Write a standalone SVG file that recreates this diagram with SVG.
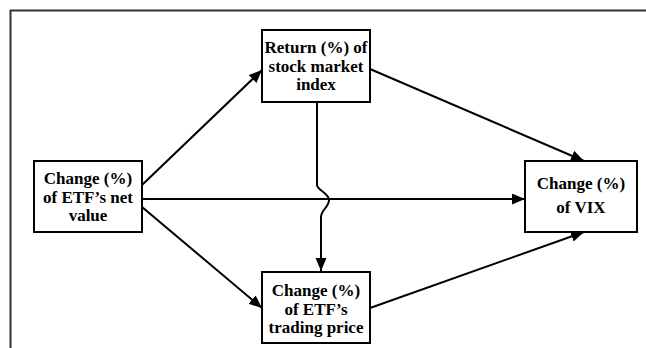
<svg xmlns="http://www.w3.org/2000/svg" width="646" height="348" viewBox="0 0 646 348">
<defs>
<style>
.box{fill:#fff;stroke:#000;stroke-width:2}
.lbl{font-weight:bold;font-size:17px;fill:#000;text-anchor:middle}
.conn{fill:none;stroke:#000;stroke-width:2}
</style>
<marker id="ah" markerUnits="userSpaceOnUse" markerWidth="14" markerHeight="12" refX="13" refY="5.5" orient="auto">
<path d="M0,0 L13,5.5 L0,11 z" fill="#000"/>
</marker>
</defs>
<rect x="0" y="0" width="646" height="348" fill="#fff"/>
<rect x="10.5" y="10.5" width="660" height="360" fill="none" stroke="#333" stroke-width="2"/>
<g id="connectors">
<line class="conn" x1="142" y1="185" x2="262" y2="70" marker-end="url(#ah)"/>
<line class="conn" x1="142" y1="199" x2="525" y2="199" marker-end="url(#ah)"/>
<line class="conn" x1="142" y1="207" x2="262" y2="308" marker-end="url(#ah)"/>
<line class="conn" x1="370" y1="69" x2="584" y2="161" marker-end="url(#ah)"/>
<line class="conn" x1="370" y1="308" x2="584" y2="232" marker-end="url(#ah)"/>
<path class="conn" d="M317,102 L317,185 C317,190 329,193 329,200 C329,207 321,210 321,217 L321,271" marker-end="url(#ah)"/>
</g>
<g font-family="'Liberation Serif', 'DejaVu Serif', serif">
<g id="node-net">
<rect class="box" x="34" y="161" width="108" height="71"/>
<text class="lbl" x="88" y="184">Change (%)</text>
<text class="lbl" x="88" y="203">of ETF’s net</text>
<text class="lbl" x="88" y="221">value</text>
</g>
<g id="node-index">
<rect class="box" x="262" y="30" width="108" height="72"/>
<text class="lbl" x="316" y="53">Return (%) of</text>
<text class="lbl" x="316" y="72">stock market</text>
<text class="lbl" x="316" y="90">index</text>
</g>
<g id="node-price">
<rect class="box" x="262" y="272" width="108" height="71"/>
<text class="lbl" x="316" y="296">Change (%)</text>
<text class="lbl" x="316" y="315">of ETF’s</text>
<text class="lbl" x="316" y="333">trading price</text>
</g>
<g id="node-vix">
<rect class="box" x="525" y="161" width="112" height="71"/>
<text class="lbl" x="581" y="189">Change (%)</text>
<text class="lbl" x="581" y="213">of VIX</text>
</g>
</g>
</svg>
